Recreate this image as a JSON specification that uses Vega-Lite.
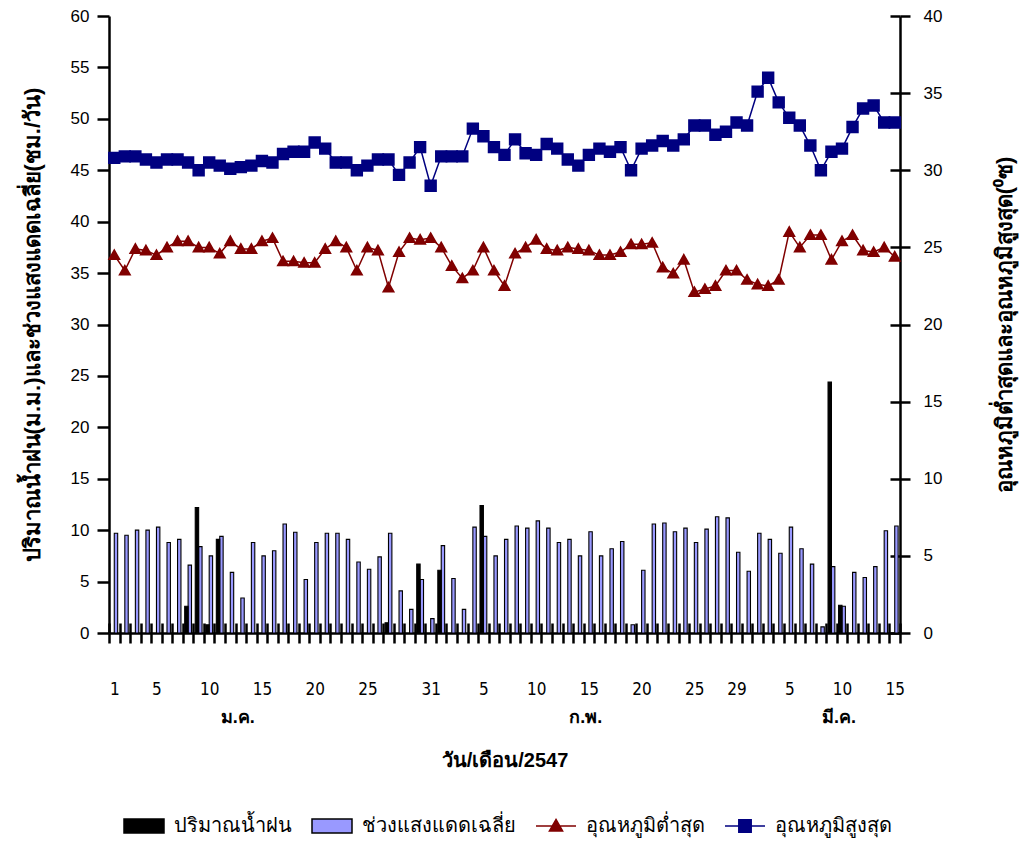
{
  "$schema": "https://vega.github.io/schema/vega-lite/v6.json",
  "width": 791,
  "height": 617,
  "autosize": {"type": "none"},
  "padding": {"left": 109, "top": 16, "right": 122, "bottom": 208},
  "background": "white",
  "config": {
    "view": {"stroke": null},
    "axis": {"domainColor": "black", "domainWidth": 2.5, "tickColor": "black", "tickWidth": 2.5, "labelColor": "black", "titleColor": "black", "grid": false, "labelFont": "Liberation Sans", "titleFont": "Liberation Sans"},
    "legend": {"labelFont": "Liberation Sans"}
  },
  "datasets": {
    "bars": [
      {"d": 1, "s": "ช่วงแสงแดดเฉลี่ย", "v": 9.7}, {"d": 2, "s": "ช่วงแสงแดดเฉลี่ย", "v": 9.5}, {"d": 3, "s": "ช่วงแสงแดดเฉลี่ย", "v": 10.0}, {"d": 4, "s": "ช่วงแสงแดดเฉลี่ย", "v": 10.0}, {"d": 5, "s": "ช่วงแสงแดดเฉลี่ย", "v": 10.3},
      {"d": 6, "s": "ช่วงแสงแดดเฉลี่ย", "v": 8.8}, {"d": 7, "s": "ช่วงแสงแดดเฉลี่ย", "v": 9.1}, {"d": 8, "s": "ช่วงแสงแดดเฉลี่ย", "v": 6.6}, {"d": 9, "s": "ช่วงแสงแดดเฉลี่ย", "v": 8.4}, {"d": 10, "s": "ช่วงแสงแดดเฉลี่ย", "v": 7.5},
      {"d": 11, "s": "ช่วงแสงแดดเฉลี่ย", "v": 9.4}, {"d": 12, "s": "ช่วงแสงแดดเฉลี่ย", "v": 5.9}, {"d": 13, "s": "ช่วงแสงแดดเฉลี่ย", "v": 3.4}, {"d": 14, "s": "ช่วงแสงแดดเฉลี่ย", "v": 8.8}, {"d": 15, "s": "ช่วงแสงแดดเฉลี่ย", "v": 7.5},
      {"d": 16, "s": "ช่วงแสงแดดเฉลี่ย", "v": 8.0}, {"d": 17, "s": "ช่วงแสงแดดเฉลี่ย", "v": 10.6}, {"d": 18, "s": "ช่วงแสงแดดเฉลี่ย", "v": 9.8}, {"d": 19, "s": "ช่วงแสงแดดเฉลี่ย", "v": 5.2}, {"d": 20, "s": "ช่วงแสงแดดเฉลี่ย", "v": 8.8},
      {"d": 21, "s": "ช่วงแสงแดดเฉลี่ย", "v": 9.7}, {"d": 22, "s": "ช่วงแสงแดดเฉลี่ย", "v": 9.7}, {"d": 23, "s": "ช่วงแสงแดดเฉลี่ย", "v": 9.1}, {"d": 24, "s": "ช่วงแสงแดดเฉลี่ย", "v": 6.9}, {"d": 25, "s": "ช่วงแสงแดดเฉลี่ย", "v": 6.2},
      {"d": 26, "s": "ช่วงแสงแดดเฉลี่ย", "v": 7.4}, {"d": 27, "s": "ช่วงแสงแดดเฉลี่ย", "v": 9.7}, {"d": 28, "s": "ช่วงแสงแดดเฉลี่ย", "v": 4.1}, {"d": 29, "s": "ช่วงแสงแดดเฉลี่ย", "v": 2.3}, {"d": 30, "s": "ช่วงแสงแดดเฉลี่ย", "v": 5.2},
      {"d": 31, "s": "ช่วงแสงแดดเฉลี่ย", "v": 1.4}, {"d": 32, "s": "ช่วงแสงแดดเฉลี่ย", "v": 8.5}, {"d": 33, "s": "ช่วงแสงแดดเฉลี่ย", "v": 5.3}, {"d": 34, "s": "ช่วงแสงแดดเฉลี่ย", "v": 2.3}, {"d": 35, "s": "ช่วงแสงแดดเฉลี่ย", "v": 10.3},
      {"d": 36, "s": "ช่วงแสงแดดเฉลี่ย", "v": 9.4}, {"d": 37, "s": "ช่วงแสงแดดเฉลี่ย", "v": 7.5}, {"d": 38, "s": "ช่วงแสงแดดเฉลี่ย", "v": 9.1}, {"d": 39, "s": "ช่วงแสงแดดเฉลี่ย", "v": 10.4}, {"d": 40, "s": "ช่วงแสงแดดเฉลี่ย", "v": 10.2},
      {"d": 41, "s": "ช่วงแสงแดดเฉลี่ย", "v": 10.9}, {"d": 42, "s": "ช่วงแสงแดดเฉลี่ย", "v": 10.2}, {"d": 43, "s": "ช่วงแสงแดดเฉลี่ย", "v": 8.8}, {"d": 44, "s": "ช่วงแสงแดดเฉลี่ย", "v": 9.1}, {"d": 45, "s": "ช่วงแสงแดดเฉลี่ย", "v": 7.5},
      {"d": 46, "s": "ช่วงแสงแดดเฉลี่ย", "v": 9.85}, {"d": 47, "s": "ช่วงแสงแดดเฉลี่ย", "v": 7.5}, {"d": 48, "s": "ช่วงแสงแดดเฉลี่ย", "v": 8.2}, {"d": 49, "s": "ช่วงแสงแดดเฉลี่ย", "v": 8.9}, {"d": 50, "s": "ช่วงแสงแดดเฉลี่ย", "v": 0.8},
      {"d": 51, "s": "ช่วงแสงแดดเฉลี่ย", "v": 6.1}, {"d": 52, "s": "ช่วงแสงแดดเฉลี่ย", "v": 10.6}, {"d": 53, "s": "ช่วงแสงแดดเฉลี่ย", "v": 10.7}, {"d": 54, "s": "ช่วงแสงแดดเฉลี่ย", "v": 9.85}, {"d": 55, "s": "ช่วงแสงแดดเฉลี่ย", "v": 10.2},
      {"d": 56, "s": "ช่วงแสงแดดเฉลี่ย", "v": 8.8}, {"d": 57, "s": "ช่วงแสงแดดเฉลี่ย", "v": 10.1}, {"d": 58, "s": "ช่วงแสงแดดเฉลี่ย", "v": 11.3}, {"d": 59, "s": "ช่วงแสงแดดเฉลี่ย", "v": 11.2}, {"d": 60, "s": "ช่วงแสงแดดเฉลี่ย", "v": 7.85},
      {"d": 61, "s": "ช่วงแสงแดดเฉลี่ย", "v": 6.0}, {"d": 62, "s": "ช่วงแสงแดดเฉลี่ย", "v": 9.7}, {"d": 63, "s": "ช่วงแสงแดดเฉลี่ย", "v": 9.1}, {"d": 64, "s": "ช่วงแสงแดดเฉลี่ย", "v": 7.75}, {"d": 65, "s": "ช่วงแสงแดดเฉลี่ย", "v": 10.3},
      {"d": 66, "s": "ช่วงแสงแดดเฉลี่ย", "v": 8.2}, {"d": 67, "s": "ช่วงแสงแดดเฉลี่ย", "v": 6.7}, {"d": 68, "s": "ช่วงแสงแดดเฉลี่ย", "v": 0.6}, {"d": 69, "s": "ช่วงแสงแดดเฉลี่ย", "v": 6.45}, {"d": 70, "s": "ช่วงแสงแดดเฉลี่ย", "v": 2.6},
      {"d": 71, "s": "ช่วงแสงแดดเฉลี่ย", "v": 5.9}, {"d": 72, "s": "ช่วงแสงแดดเฉลี่ย", "v": 5.4}, {"d": 73, "s": "ช่วงแสงแดดเฉลี่ย", "v": 6.45}, {"d": 74, "s": "ช่วงแสงแดดเฉลี่ย", "v": 9.95}, {"d": 75, "s": "ช่วงแสงแดดเฉลี่ย", "v": 10.4},
      {"d": 8, "s": "ปริมาณน้ำฝน", "v": 2.6}, {"d": 9, "s": "ปริมาณน้ำฝน", "v": 12.2}, {"d": 10, "s": "ปริมาณน้ำฝน", "v": 0.8}, {"d": 11, "s": "ปริมาณน้ำฝน", "v": 9.1},
      {"d": 27, "s": "ปริมาณน้ำฝน", "v": 1.0}, {"d": 30, "s": "ปริมาณน้ำฝน", "v": 6.7}, {"d": 32, "s": "ปริมาณน้ำฝน", "v": 6.1}, {"d": 36, "s": "ปริมาณน้ำฝน", "v": 12.4},
      {"d": 69, "s": "ปริมาณน้ำฝน", "v": 24.4}, {"d": 70, "s": "ปริมาณน้ำฝน", "v": 2.7}
    ],
    "temps": [
      {"d": 1, "s": "อุณหภูมิต่ำสุด", "t": 24.5}, {"d": 2, "s": "อุณหภูมิต่ำสุด", "t": 23.5}, {"d": 3, "s": "อุณหภูมิต่ำสุด", "t": 24.9}, {"d": 4, "s": "อุณหภูมิต่ำสุด", "t": 24.8}, {"d": 5, "s": "อุณหภูมิต่ำสุด", "t": 24.5},
      {"d": 6, "s": "อุณหภูมิต่ำสุด", "t": 25.0}, {"d": 7, "s": "อุณหภูมิต่ำสุด", "t": 25.4}, {"d": 8, "s": "อุณหภูมิต่ำสุด", "t": 25.4}, {"d": 9, "s": "อุณหภูมิต่ำสุด", "t": 25.0}, {"d": 10, "s": "อุณหภูมิต่ำสุด", "t": 25.0},
      {"d": 11, "s": "อุณหภูมิต่ำสุด", "t": 24.6}, {"d": 12, "s": "อุณหภูมิต่ำสุด", "t": 25.4}, {"d": 13, "s": "อุณหภูมิต่ำสุด", "t": 24.9}, {"d": 14, "s": "อุณหภูมิต่ำสุด", "t": 24.9}, {"d": 15, "s": "อุณหภูมิต่ำสุด", "t": 25.4},
      {"d": 16, "s": "อุณหภูมิต่ำสุด", "t": 25.6}, {"d": 17, "s": "อุณหภูมิต่ำสุด", "t": 24.1}, {"d": 18, "s": "อุณหภูมิต่ำสุด", "t": 24.1}, {"d": 19, "s": "อุณหภูมิต่ำสุด", "t": 24.0}, {"d": 20, "s": "อุณหภูมิต่ำสุด", "t": 24.0},
      {"d": 21, "s": "อุณหภูมิต่ำสุด", "t": 24.9}, {"d": 22, "s": "อุณหภูมิต่ำสุด", "t": 25.4}, {"d": 23, "s": "อุณหภูมิต่ำสุด", "t": 25.0}, {"d": 24, "s": "อุณหภูมิต่ำสุด", "t": 23.5}, {"d": 25, "s": "อุณหภูมิต่ำสุด", "t": 25.0},
      {"d": 26, "s": "อุณหภูมิต่ำสุด", "t": 24.8}, {"d": 27, "s": "อุณหภูมิต่ำสุด", "t": 22.4}, {"d": 28, "s": "อุณหภูมิต่ำสุด", "t": 24.7}, {"d": 29, "s": "อุณหภูมิต่ำสุด", "t": 25.6}, {"d": 30, "s": "อุณหภูมิต่ำสุด", "t": 25.5},
      {"d": 31, "s": "อุณหภูมิต่ำสุด", "t": 25.6}, {"d": 32, "s": "อุณหภูมิต่ำสุด", "t": 25.0}, {"d": 33, "s": "อุณหภูมิต่ำสุด", "t": 23.8}, {"d": 34, "s": "อุณหภูมิต่ำสุด", "t": 23.0}, {"d": 35, "s": "อุณหภูมิต่ำสุด", "t": 23.5},
      {"d": 36, "s": "อุณหภูมิต่ำสุด", "t": 25.0}, {"d": 37, "s": "อุณหภูมิต่ำสุด", "t": 23.5}, {"d": 38, "s": "อุณหภูมิต่ำสุด", "t": 22.5}, {"d": 39, "s": "อุณหภูมิต่ำสุด", "t": 24.6}, {"d": 40, "s": "อุณหภูมิต่ำสุด", "t": 25.0},
      {"d": 41, "s": "อุณหภูมิต่ำสุด", "t": 25.5}, {"d": 42, "s": "อุณหภูมิต่ำสุด", "t": 24.9}, {"d": 43, "s": "อุณหภูมิต่ำสุด", "t": 24.8}, {"d": 44, "s": "อุณหภูมิต่ำสุด", "t": 25.0}, {"d": 45, "s": "อุณหภูมิต่ำสุด", "t": 24.9},
      {"d": 46, "s": "อุณหภูมิต่ำสุด", "t": 24.8}, {"d": 47, "s": "อุณหภูมิต่ำสุด", "t": 24.5}, {"d": 48, "s": "อุณหภูมิต่ำสุด", "t": 24.5}, {"d": 49, "s": "อุณหภูมิต่ำสุด", "t": 24.7}, {"d": 50, "s": "อุณหภูมิต่ำสุด", "t": 25.2},
      {"d": 51, "s": "อุณหภูมิต่ำสุด", "t": 25.2}, {"d": 52, "s": "อุณหภูมิต่ำสุด", "t": 25.3}, {"d": 53, "s": "อุณหภูมิต่ำสุด", "t": 23.7}, {"d": 54, "s": "อุณหภูมิต่ำสุด", "t": 23.3}, {"d": 55, "s": "อุณหภูมิต่ำสุด", "t": 24.2},
      {"d": 56, "s": "อุณหภูมิต่ำสุด", "t": 22.1}, {"d": 57, "s": "อุณหภูมิต่ำสุด", "t": 22.3}, {"d": 58, "s": "อุณหภูมิต่ำสุด", "t": 22.5}, {"d": 59, "s": "อุณหภูมิต่ำสุด", "t": 23.5}, {"d": 60, "s": "อุณหภูมิต่ำสุด", "t": 23.5},
      {"d": 61, "s": "อุณหภูมิต่ำสุด", "t": 22.9}, {"d": 62, "s": "อุณหภูมิต่ำสุด", "t": 22.6}, {"d": 63, "s": "อุณหภูมิต่ำสุด", "t": 22.5}, {"d": 64, "s": "อุณหภูมิต่ำสุด", "t": 22.9}, {"d": 65, "s": "อุณหภูมิต่ำสุด", "t": 26.0},
      {"d": 66, "s": "อุณหภูมิต่ำสุด", "t": 25.0}, {"d": 67, "s": "อุณหภูมิต่ำสุด", "t": 25.8}, {"d": 68, "s": "อุณหภูมิต่ำสุด", "t": 25.8}, {"d": 69, "s": "อุณหภูมิต่ำสุด", "t": 24.2}, {"d": 70, "s": "อุณหภูมิต่ำสุด", "t": 25.4},
      {"d": 71, "s": "อุณหภูมิต่ำสุด", "t": 25.8}, {"d": 72, "s": "อุณหภูมิต่ำสุด", "t": 24.8}, {"d": 73, "s": "อุณหภูมิต่ำสุด", "t": 24.7}, {"d": 74, "s": "อุณหภูมิต่ำสุด", "t": 25.0}, {"d": 75, "s": "อุณหภูมิต่ำสุด", "t": 24.4},
      {"d": 1, "s": "อุณหภูมิสูงสุด", "t": 30.8}, {"d": 2, "s": "อุณหภูมิสูงสุด", "t": 30.9}, {"d": 3, "s": "อุณหภูมิสูงสุด", "t": 30.9}, {"d": 4, "s": "อุณหภูมิสูงสุด", "t": 30.7}, {"d": 5, "s": "อุณหภูมิสูงสุด", "t": 30.5},
      {"d": 6, "s": "อุณหภูมิสูงสุด", "t": 30.7}, {"d": 7, "s": "อุณหภูมิสูงสุด", "t": 30.7}, {"d": 8, "s": "อุณหภูมิสูงสุด", "t": 30.5}, {"d": 9, "s": "อุณหภูมิสูงสุด", "t": 30.0}, {"d": 10, "s": "อุณหภูมิสูงสุด", "t": 30.5},
      {"d": 11, "s": "อุณหภูมิสูงสุด", "t": 30.3}, {"d": 12, "s": "อุณหภูมิสูงสุด", "t": 30.1}, {"d": 13, "s": "อุณหภูมิสูงสุด", "t": 30.2}, {"d": 14, "s": "อุณหภูมิสูงสุด", "t": 30.3}, {"d": 15, "s": "อุณหภูมิสูงสุด", "t": 30.6},
      {"d": 16, "s": "อุณหภูมิสูงสุด", "t": 30.5}, {"d": 17, "s": "อุณหภูมิสูงสุด", "t": 31.05}, {"d": 18, "s": "อุณหภูมิสูงสุด", "t": 31.2}, {"d": 19, "s": "อุณหภูมิสูงสุด", "t": 31.2}, {"d": 20, "s": "อุณหภูมิสูงสุด", "t": 31.8},
      {"d": 21, "s": "อุณหภูมิสูงสุด", "t": 31.4}, {"d": 22, "s": "อุณหภูมิสูงสุด", "t": 30.5}, {"d": 23, "s": "อุณหภูมิสูงสุด", "t": 30.5}, {"d": 24, "s": "อุณหภูมิสูงสุด", "t": 30.0}, {"d": 25, "s": "อุณหภูมิสูงสุด", "t": 30.3},
      {"d": 26, "s": "อุณหภูมิสูงสุด", "t": 30.7}, {"d": 27, "s": "อุณหภูมิสูงสุด", "t": 30.7}, {"d": 28, "s": "อุณหภูมิสูงสุด", "t": 29.7}, {"d": 29, "s": "อุณหภูมิสูงสุด", "t": 30.5}, {"d": 30, "s": "อุณหภูมิสูงสุด", "t": 31.5},
      {"d": 31, "s": "อุณหภูมิสูงสุด", "t": 29.0}, {"d": 32, "s": "อุณหภูมิสูงสุด", "t": 30.9}, {"d": 33, "s": "อุณหภูมิสูงสุด", "t": 30.9}, {"d": 34, "s": "อุณหภูมิสูงสุด", "t": 30.9}, {"d": 35, "s": "อุณหภูมิสูงสุด", "t": 32.7},
      {"d": 36, "s": "อุณหภูมิสูงสุด", "t": 32.2}, {"d": 37, "s": "อุณหภูมิสูงสุด", "t": 31.5}, {"d": 38, "s": "อุณหภูมิสูงสุด", "t": 31.0}, {"d": 39, "s": "อุณหภูมิสูงสุด", "t": 32.0}, {"d": 40, "s": "อุณหภูมิสูงสุด", "t": 31.1},
      {"d": 41, "s": "อุณหภูมิสูงสุด", "t": 31.0}, {"d": 42, "s": "อุณหภูมิสูงสุด", "t": 31.7}, {"d": 43, "s": "อุณหภูมิสูงสุด", "t": 31.4}, {"d": 44, "s": "อุณหภูมิสูงสุด", "t": 30.7}, {"d": 45, "s": "อุณหภูมิสูงสุด", "t": 30.3},
      {"d": 46, "s": "อุณหภูมิสูงสุด", "t": 31.0}, {"d": 47, "s": "อุณหภูมิสูงสุด", "t": 31.4}, {"d": 48, "s": "อุณหภูมิสูงสุด", "t": 31.2}, {"d": 49, "s": "อุณหภูมิสูงสุด", "t": 31.5}, {"d": 50, "s": "อุณหภูมิสูงสุด", "t": 30.0},
      {"d": 51, "s": "อุณหภูมิสูงสุด", "t": 31.4}, {"d": 52, "s": "อุณหภูมิสูงสุด", "t": 31.6}, {"d": 53, "s": "อุณหภูมิสูงสุด", "t": 31.9}, {"d": 54, "s": "อุณหภูมิสูงสุด", "t": 31.6}, {"d": 55, "s": "อุณหภูมิสูงสุด", "t": 32.0},
      {"d": 56, "s": "อุณหภูมิสูงสุด", "t": 32.9}, {"d": 57, "s": "อุณหภูมิสูงสุด", "t": 32.9}, {"d": 58, "s": "อุณหภูมิสูงสุด", "t": 32.3}, {"d": 59, "s": "อุณหภูมิสูงสุด", "t": 32.5}, {"d": 60, "s": "อุณหภูมิสูงสุด", "t": 33.1},
      {"d": 61, "s": "อุณหภูมิสูงสุด", "t": 32.9}, {"d": 62, "s": "อุณหภูมิสูงสุด", "t": 35.1}, {"d": 63, "s": "อุณหภูมิสูงสุด", "t": 36.0}, {"d": 64, "s": "อุณหภูมิสูงสุด", "t": 34.4}, {"d": 65, "s": "อุณหภูมิสูงสุด", "t": 33.4},
      {"d": 66, "s": "อุณหภูมิสูงสุด", "t": 32.9}, {"d": 67, "s": "อุณหภูมิสูงสุด", "t": 31.6}, {"d": 68, "s": "อุณหภูมิสูงสุด", "t": 30.0}, {"d": 69, "s": "อุณหภูมิสูงสุด", "t": 31.2}, {"d": 70, "s": "อุณหภูมิสูงสุด", "t": 31.4},
      {"d": 71, "s": "อุณหภูมิสูงสุด", "t": 32.8}, {"d": 72, "s": "อุณหภูมิสูงสุด", "t": 34.0}, {"d": 73, "s": "อุณหภูมิสูงสุด", "t": 34.2}, {"d": 74, "s": "อุณหภูมิสูงสุด", "t": 33.1}, {"d": 75, "s": "อุณหภูมิสูงสุด", "t": 33.1}
    ]
  },
  "layer": [
    {
      "data": {"name": "bars"},
      "mark": {"type": "bar", "stroke": "black", "strokeWidth": 1.1},
      "encoding": {
        "x": {"field": "d", "type": "ordinal", "scale": {"paddingInner": 0, "paddingOuter": 0},
          "axis": {"orient": "bottom", "tickBand": "extent", "tickSize": 10, "labelPadding": 38, "labelAngle": 0, "labelOverlap": false, "labelFont": "DejaVu Sans Condensed, Liberation Sans", "labelFontSize": 17, "labelBaseline": "top",
            "labelExpr": "indexof([1,5,10,15,20,25,31,36,41,46,51,56,60,65,70,75], datum.value) >= 0 ? '' + (datum.value <= 31 ? datum.value : (datum.value <= 60 ? datum.value - 31 : datum.value - 60)) : ''",
            "title": "วัน/เดือน/2547", "titleFontSize": 20, "titleFontWeight": "bold", "titlePadding": 53}},
        "xOffset": {"field": "s", "type": "nominal", "scale": {"domain": ["ปริมาณน้ำฝน", "ช่วงแสงแดดเฉลี่ย"], "paddingInner": 0, "paddingOuter": 0.55}},
        "y": {"field": "v", "type": "quantitative", "scale": {"domain": [0, 60], "nice": false},
          "axis": {"orient": "left", "values": [0, 5, 10, 15, 20, 25, 30, 35, 40, 45, 50, 55, 60], "tickSize": 12, "labelPadding": 8, "labelFontSize": 17,
            "title": "ปริมาณน้ำฝน(ม.ม.)และช่วงแสงแดดเฉลี่ย(ชม./วัน)", "titleFontSize": 22, "titleFontWeight": "bold", "titlePadding": 26}},
        "color": {"field": "s", "type": "nominal",
          "scale": {"domain": ["ปริมาณน้ำฝน", "ช่วงแสงแดดเฉลี่ย"], "range": ["#000000", "#9999FF"]},
          "legend": null}
      }
    },
    {
      "data": {"name": "temps"},
      "mark": {"type": "line", "strokeWidth": 1.5},
      "encoding": {
        "x": {"field": "d", "type": "ordinal",
          "axis": {"orient": "bottom", "tickBand": "extent", "tickSize": -10, "labels": false, "domain": false, "title": null}},
        "y": {"field": "t", "type": "quantitative", "scale": {"domain": [0, 40], "nice": false},
          "axis": {"orient": "right", "values": [0, 5, 10, 15, 20, 25, 30, 35, 40], "tickSize": 10, "labelPadding": 13, "labelFontSize": 17,
            "title": "อุณหภูมิต่ำสุดและอุณหภูมิสูงสุด(⁰ซ)", "titleAngle": -90, "titleFontSize": 22, "titleFontWeight": "bold", "titlePadding": 75}},
        "color": {"field": "s", "type": "nominal",
          "scale": {"domain": ["อุณหภูมิต่ำสุด", "อุณหภูมิสูงสุด"], "range": ["#800000", "#000080"]},
          "legend": null}
      }
    },
    {
      "data": {"name": "temps"},
      "mark": {"type": "point", "filled": true, "opacity": 1, "size": 1600},
      "encoding": {
        "x": {"field": "d", "type": "ordinal",
          "axis": {"orient": "bottom", "ticks": false, "domain": false, "labelPadding": 75, "labelOffset": -3, "labelFontSize": 18, "labelFontWeight": "bold", "labelAngle": 0, "labelOverlap": false, "labelBaseline": "top",
            "labelExpr": "datum.value === 13 ? 'ม.ค.' : (datum.value === 46 ? 'ก.พ.' : (datum.value === 70 ? 'มี.ค.' : ''))", "title": null}},
        "y": {"field": "t", "type": "quantitative", "scale": {"domain": [0, 40], "nice": false},
          "axis": {"orient": "right", "values": [0, 5, 10, 15, 20, 25, 30, 35, 40], "tickSize": -10, "labels": false, "domain": false, "title": null}},
        "color": {"field": "s", "type": "nominal",
          "scale": {"domain": ["ปริมาณน้ำฝน", "ช่วงแสงแดดเฉลี่ย", "อุณหภูมิต่ำสุด", "อุณหภูมิสูงสุด"], "range": ["#000000", "#9999FF", "#800000", "#000080"]},
          "legend": {"orient": "none", "legendX": 14, "legendY": 789, "direction": "horizontal", "title": null, "labelFontSize": 20, "labelLimit": 300, "symbolSize": 1600, "symbolStrokeWidth": 1.5, "columnPadding": 17, "labelOffset": 9}},
        "shape": {"field": "s", "type": "nominal",
          "scale": {"domain": ["ปริมาณน้ำฝน", "ช่วงแสงแดดเฉลี่ย", "อุณหภูมิต่ำสุด", "อุณหภูมิสูงสุด"],
            "range": ["M-1,-0.35L1,-0.35L1,0.35L-1,0.35Z", "M-1,-0.35L1,-0.35L1,0.35L-1,0.35Z", "M-1,0L1,0M0,-0.33L0.33,0.25L-0.33,0.25Z", "M-1,0L1,0M-0.31,-0.31L0.31,-0.31L0.31,0.31L-0.31,0.31Z"]},
          "legend": {"orient": "none", "legendX": 14, "legendY": 789, "direction": "horizontal", "title": null, "labelFontSize": 20, "labelLimit": 300, "symbolSize": 1600, "symbolStrokeWidth": 1.5, "columnPadding": 17, "labelOffset": 9}},
        "stroke": {"field": "s", "type": "nominal",
          "scale": {"domain": ["ปริมาณน้ำฝน", "ช่วงแสงแดดเฉลี่ย", "อุณหภูมิต่ำสุด", "อุณหภูมิสูงสุด"], "range": ["#000000", "#000000", "#800000", "#000080"]},
          "legend": {"orient": "none", "legendX": 14, "legendY": 789, "direction": "horizontal", "title": null, "labelFontSize": 20, "labelLimit": 300, "symbolSize": 1600, "symbolStrokeWidth": 1.5, "columnPadding": 17, "labelOffset": 9}},
        "strokeWidth": {"value": 0}
      }
    }
  ],
  "resolve": {"scale": {"y": "independent", "color": "independent", "shape": "independent", "stroke": "independent"}, "axis": {"x": "independent", "y": "independent"}}
}
